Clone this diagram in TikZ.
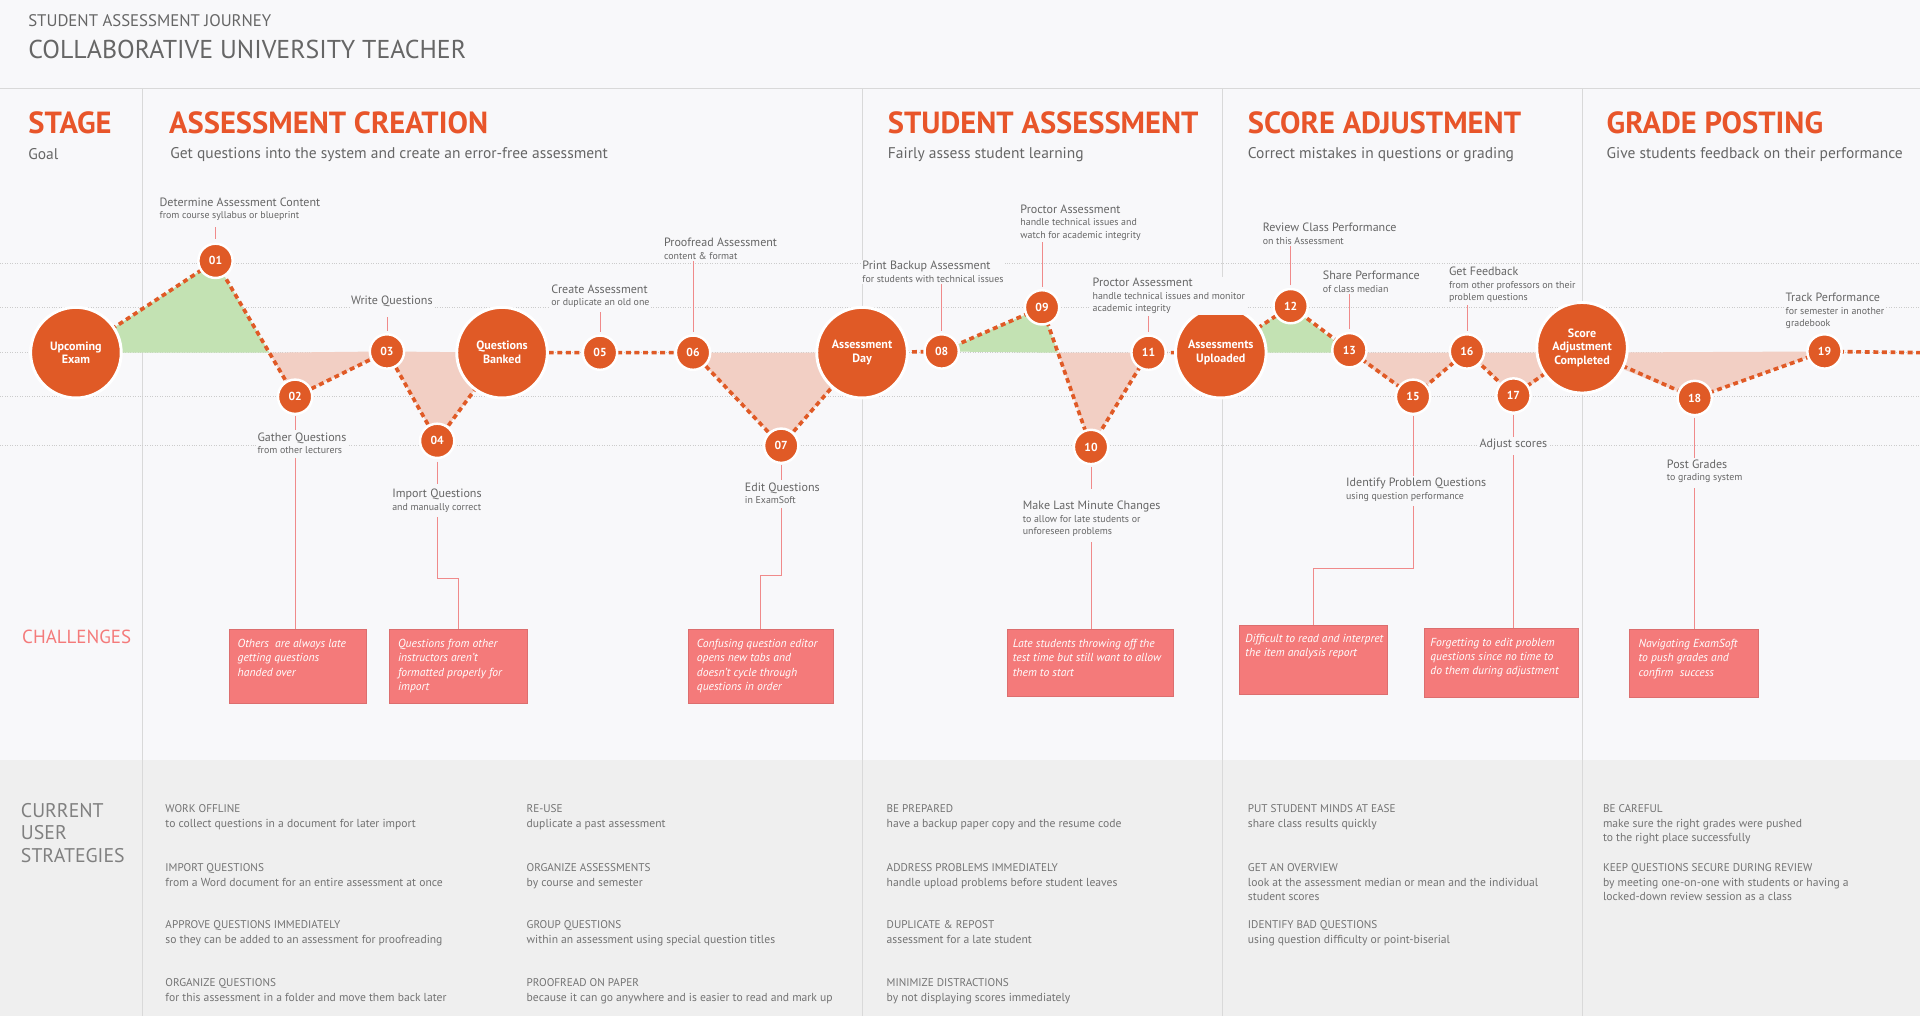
\documentclass[tikz,border=0pt]{standalone}
\usepackage{fontspec}
\setmainfont{PT Sans}
\usetikzlibrary{positioning,calc,backgrounds}
\definecolor{bgc}{HTML}{F8F8FA}
\definecolor{strip}{HTML}{EFEFEF}
\definecolor{orng}{HTML}{E05A26}
\definecolor{head}{HTML}{E8552A}
\definecolor{txt}{HTML}{666666}
\definecolor{lead}{HTML}{F08A8A}
\definecolor{chal}{HTML}{F47A7A}
\definecolor{upc}{HTML}{C3E2B3}
\definecolor{dnc}{HTML}{F2CFC4}
\tikzset{
  big/.style={circle, fill=orng, draw=white, line width=1.2mm, minimum size=37mm, inner sep=0, align=center, text=white, font=\fontsize{14}{16}\selectfont\bfseries},
  stop/.style={circle, fill=orng, draw=white, line width=1mm, minimum size=14mm, inner sep=0, text=white, font=\fontsize{13.5}{13}\selectfont\bfseries},
  trail/.style={draw=orng, line width=1.5mm, dash pattern=on 2mm off 1.5mm},
  guide/.style={draw=black!20, line width=0.3mm, dotted},
  lbl/.style={anchor=north west, align=left, inner sep=0.6mm, fill=bgc, text=txt, font=\fontsize{14}{14.5}\selectfont},
  lblc/.style={lbl, anchor=north},
  leader/.style={draw=lead, line width=0.35mm},
  chal/.style={anchor=north west, fill=chal, draw=chal!90!black, line width=0.2mm, text=white, align=left, inner sep=0, font=\fontsize{13.5}{16.5}\selectfont\itshape},
  ctext/.style={anchor=north west, inner sep=0, text=white, align=left, font=\fontsize{13.5}{16.5}\selectfont\itshape},
  stage/.style={anchor=west, inner sep=0, text=head, font=\fontsize{35.5}{35.5}\selectfont\bfseries},
  goal/.style={anchor=west, inner sep=0, text=txt, font=\fontsize{18}{18}\selectfont},
  strat/.style={anchor=north west, align=left, inner sep=0, text=black!55, font=\fontsize{13.5}{17}\selectfont},
  sep/.style={draw=black!15, line width=0.4mm}
}
\newcommand{\sub}{\fontsize{11.5}{14}\selectfont}
\newcommand{\shead}[1]{{\fontsize{13}{17}\selectfont\MakeUppercase{#1}}}
\begin{document}
\begin{tikzpicture}[x=0.5mm, y=-0.5mm]
\useasboundingbox (0,0) rectangle (1568,830);

% title
\node[anchor=west, inner sep=0, text=black!60, font=\fontsize{19.5}{19.5}\selectfont] (subtitle) at (23,17) {STUDENT ASSESSMENT JOURNEY};
\node[anchor=west, inner sep=0, text=black!60, font=\fontsize{30}{30}\selectfont] (title) at (23,40) {COLLABORATIVE UNIVERSITY TEACHER};

% stages
\node[stage] (st0) at (23,100) {STAGE};
\node[goal] (g0) at (23,126) {Goal};
\node[stage] (st1) at (138,100) {ASSESSMENT CREATION};
\node[goal] (g1) at (139,126) {Get questions into the system and create an error-free assessment};
\node[stage] (st2) at (725,100) {STUDENT ASSESSMENT};
\node[goal] (g2) at (725,126) {Fairly assess student learning};
\node[stage] (st3) at (1019,100) {SCORE ADJUSTMENT};
\node[goal] (g3) at (1019,126) {Correct mistakes in questions or grading};
\node[stage] (st4) at (1312,100) {GRADE POSTING};
\node[goal] (g4) at (1312,126) {Give students feedback on their performance};

% journey nodes
\node[big] (ue) at (62,288) {Upcoming\\Exam};
\node[stop] (n01) at (176,213) {01};
\node[stop] (n02) at (241,324) {02};
\node[stop] (n03) at (316,287) {03};
\node[stop] (n04) at (357,360) {04};
\node[big] (qb) at (410,288) {Questions\\Banked};
\node[stop] (n05) at (490,288) {05};
\node[stop] (n06) at (566,288) {06};
\node[stop] (n07) at (638,364) {07};
\node[big] (ad) at (704,288) {Assessment\\Day};
\node[stop] (n08) at (769,287) {08};
\node[stop] (n09) at (851,251) {09};
\node[stop] (n10) at (891,365) {10};
\node[stop] (n11) at (938,288) {11};
\node[big] (au) at (997,288) {Assessments\\Uploaded};
\node[stop] (n12) at (1054,250) {12};
\node[stop] (n13) at (1102,286) {13};
\node[stop] (n15) at (1154,324) {15};
\node[stop] (n16) at (1198,287) {16};
\node[stop] (n17) at (1236,323) {17};
\node[big] (sac) at (1292,284) {Score\\Adjustment\\Completed};
\node[stop] (n18) at (1384,325) {18};
\node[stop] (n19) at (1490,287) {19};
\coordinate (tail) at (1568,288);

\begin{scope}[on background layer]
% canvas
\fill[bgc] (0,0) rectangle (1568,830);
\fill[strip] (0,621) rectangle (1568,830);
\draw[sep] (0,72) -- (1568,72);
\foreach \xx in {116,704,998,1292} \draw[sep] (\xx,72) -- (\xx,830);
\foreach \yy in {215,251,288,324,364} \draw[guide] (0,\yy) -- (1568,\yy);
% ups and downs
\fill[upc] (ue.center) -- (n01.center) -- ($(n01)!0.676!(n02)$) -- cycle;
\fill[dnc] ($(n01)!0.676!(n02)$) -- (n02.center) -- (n03.center) -- cycle;
\fill[dnc] (n03.center) -- (n04.center) -- (qb.center) -- cycle;
\fill[dnc] (n06.center) -- (n07.center) -- (ad.center) -- cycle;
\fill[upc] (n08.center) -- (n09.center) -- ($(n09)!0.325!(n10)$) -- cycle;
\fill[dnc] ($(n09)!0.325!(n10)$) -- (n10.center) -- (n11.center) -- cycle;
\fill[upc] (au.center) -- (n12.center) -- (n13.center |- au.center) -- cycle;
\fill[dnc] (n13.center |- au.center) -- (n15.center) -- (n16.center) -- (n17.center) -- (sac.center |- au.center) -- cycle;
\fill[dnc] (sac.center |- au.center) -- (n18.center) -- (n19.center) -- cycle;
\draw[trail] (ue.center) -- (n01.center) -- (n02.center) -- (n03.center) -- (n04.center) -- (qb.center) -- (n05.center) -- (n06.center) -- (n07.center) -- (ad.center) -- (n08.center) -- (n09.center) -- (n10.center) -- (n11.center) -- (au.center) -- (n12.center) -- (n13.center) -- (n15.center) -- (n16.center) -- (n17.center) -- (sac.center) -- (n18.center) -- (n19.center) -- (tail);
\end{scope}

% stop labels
\node[lbl] (l01) at (129,160) {Determine Assessment Content\\{\sub from course syllabus or blueprint}};
\node[lbl] (l02) at (209,352) {Gather Questions\\{\sub from other lecturers}};
\node[lblc] (l03) at (320,240) {Write Questions};
\node[lbl] (l04) at (319,398) {Import Questions\\{\sub and manually correct}};
\node[lbl] (l05) at (449,231) {Create Assessment\\{\sub or duplicate an old one}};
\node[lbl] (l06) at (541,193) {Proofread Assessment\\{\sub content \& format}};
\node[lbl] (l07) at (607,393) {Edit Questions\\{\sub in ExamSoft}};
\node[lbl] (l08) at (703,212) {Print Backup Assessment\\{\sub for students with technical issues}};
\node[lbl] (l09) at (832,166) {Proctor Assessment\\{\sub handle technical issues and}\\{\sub watch for academic integrity}};
\node[lbl] (l10) at (834,408) {Make Last Minute Changes\\{\sub to allow for late students or}\\{\sub unforeseen problems}};
\node[lbl] (l11) at (891,226) {Proctor Assessment\\{\sub handle technical issues and monitor}\\{\sub academic integrity}};
\node[lbl] (l12) at (1030,181) {Review Class Performance\\{\sub on this Assessment}};
\node[lbl] (l13) at (1079,220) {Share Performance\\{\sub of class median}};
\node[lbl] (l15) at (1098,389) {Identify Problem Questions\\{\sub using question performance}};
\node[lbl] (l16) at (1182,217) {Get Feedback\\{\sub from other professors on their}\\{\sub problem questions}};
\node[lbl] (l17) at (1207,357) {Adjust scores};
\node[lbl] (l18) at (1360,374) {Post Grades\\{\sub to grading system}};
\node[lbl] (l19) at (1457,238) {Track Performance\\{\sub for semester in another}\\{\sub gradebook}};

% challenges
\node[text=chal, anchor=west, inner sep=0, font=\fontsize{22}{22}\selectfont] (challenges) at (18,520) {CHALLENGES};
\node[chal, minimum width=56mm, minimum height=30mm] (c02) at (187,514) {};
\node[ctext] at ($(c02.north west)+(7,8)$) {Others\ \ are always late\\getting questions\\handed over};
\node[chal, minimum width=56mm, minimum height=30mm] (c04) at (318,514) {};
\node[ctext] at ($(c04.north west)+(7,8)$) {Questions from other\\instructors aren't\\formatted properly for\\import};
\node[chal, minimum width=59mm, minimum height=30mm] (c07) at (562,514) {};
\node[ctext] at ($(c07.north west)+(7,8)$) {Confusing question editor\\opens new tabs and\\doesn't cycle through\\questions in order};
\node[chal, minimum width=68mm, minimum height=27mm] (c10) at (822,514) {};
\node[ctext] at ($(c10.north west)+(5,8)$) {Late students throwing off the\\test time but still want to allow\\them to start};
\node[chal, minimum width=60.5mm, minimum height=28.5mm] (c15) at (1012,510) {};
\node[ctext] at ($(c15.north west)+(5,8)$) {Difficult to read and interpret\\the item analysis report};
\node[chal, minimum width=63mm, minimum height=28mm] (c17) at (1163,513) {};
\node[ctext] at ($(c17.north west)+(5,8)$) {Forgetting to edit problem\\questions since no time to\\do them during adjustment};
\node[chal, minimum width=53mm, minimum height=27.5mm] (c18) at (1330,514) {};
\node[ctext] at ($(c18.north west)+(8,8)$) {Navigating ExamSoft\\to push grades and\\confirm\ \ success};

% leaders
\draw[leader] (n01.north) ++(0,-3) -- ++(0,-10);
\draw[leader] (n02.south) ++(0,1) -- ++(0,11);
\draw[leader] (n02 |- l02.south) ++(0,2) -- (n02 |- c02.north);
\draw[leader] (n03.north) ++(0,-2) -- ++(0,-11);
\draw[leader] (n04.south) ++(0,2) -- ++(0,18);
\draw[leader] (n04 |- l04.south) ++(0,3) -- ++(0,50) -| (c04.north);
\draw[leader] (n05.north) ++(0,-2) -- ++(0,-16);
\draw[leader] (n06.north) ++(0,-2) -- (n06 |- l06.south);
\draw[leader] (n07.south) ++(0,1) -- ++(0,12);
\draw[leader] (n07 |- l07.south) ++(0,2) -- ++(0,55) -| (c07.north);
\draw[leader] (n08.north) ++(0,-2) -- (n08 |- l08.south);
\draw[leader] (n09.north) ++(0,-2) -- (n09 |- l09.south);
\draw[leader] (n10.south) ++(0,1) -- ++(0,18);
\draw[leader] (n10 |- l10.south) ++(0,3) -- (n10 |- c10.north);
\draw[leader] (n11.north) ++(0,-2) -- (n11 |- l11.south);
\draw[leader] (n12.north) ++(0,-2) -- (n12 |- l12.south);
\draw[leader] (n13.north) ++(0,-2) -- (n13 |- l13.south);
\draw[leader] (n15.south) ++(0,1) -- (n15 |- l15.north);
\draw[leader] (n15 |- l15.south) ++(0,3) -- ++(0,51) -| (c15.north);
\draw[leader] (n16.north) ++(0,-2) -- (n16 |- l16.south);
\draw[leader] (n17.south) ++(0,1) -- (n17 |- l17.north);
\draw[leader] (n17 |- l17.south) ++(0,3) -- (n17 |- c17.north);
\draw[leader] (n18.south) ++(0,1) -- (n18 |- l18.north);
\draw[leader] (n18 |- l18.south) ++(0,3) -- (n18 |- c18.north);

% strategies
\node[anchor=north west, align=left, inner sep=0, text=black!50, font=\fontsize{23}{26}\selectfont] (strategies) at (17,656) {CURRENT\\USER\\STRATEGIES};
\node[strat] (s11) at (135,657) {\shead{Work offline}\\to collect questions in a document for later import};
\node[strat] (s12) at (135,705) {\shead{Import questions}\\from a Word document for an entire assessment at once};
\node[strat] (s13) at (135,752) {\shead{Approve questions immediately}\\so they can be added to an assessment for proofreading};
\node[strat] (s14) at (135,799) {\shead{Organize questions}\\for this assessment in a folder and move them back later};
\node[strat] (s21) at (430,657) {\shead{Re-use}\\duplicate a past assessment};
\node[strat] (s22) at (430,705) {\shead{Organize assessments}\\by course and semester};
\node[strat] (s23) at (430,752) {\shead{Group questions}\\within an assessment using special question titles};
\node[strat] (s24) at (430,799) {\shead{Proofread on paper}\\because it can go anywhere and is easier to read and mark up};
\node[strat] (s31) at (724,657) {\shead{Be prepared}\\have a backup paper copy and the resume code};
\node[strat] (s32) at (724,705) {\shead{Address problems immediately}\\handle upload problems before student leaves};
\node[strat] (s33) at (724,752) {\shead{Duplicate \& repost}\\assessment for a late student};
\node[strat] (s34) at (724,799) {\shead{Minimize distractions}\\by not displaying scores immediately};
\node[strat] (s41) at (1019,657) {\shead{Put student minds at ease}\\share class results quickly};
\node[strat] (s42) at (1019,705) {\shead{Get an overview}\\look at the assessment median or mean and the individual\\student scores};
\node[strat] (s43) at (1019,752) {\shead{Identify bad questions}\\using question difficulty or point-biserial};
\node[strat] (s51) at (1309,657) {\shead{Be careful}\\make sure the right grades were pushed\\to the right place successfully};
\node[strat] (s52) at (1309,705) {\shead{Keep questions secure during review}\\by meeting one-on-one with students or having a\\locked-down review session as a class};
\end{tikzpicture}
\end{document}
